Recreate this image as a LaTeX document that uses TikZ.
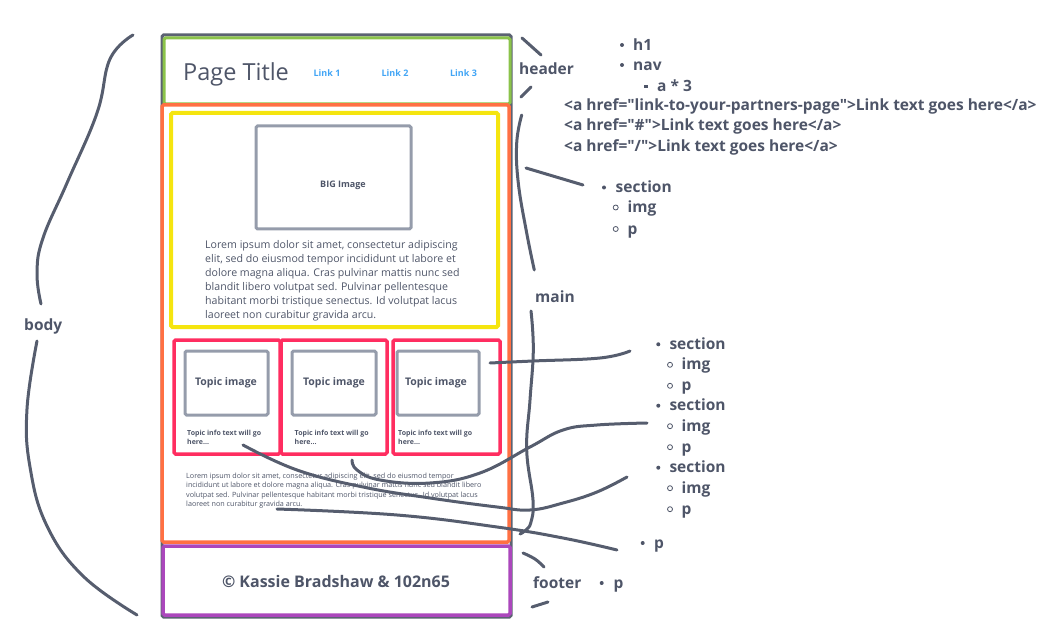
\documentclass[tikz,border=0pt]{standalone}
\usepackage{fontspec}
\setmainfont{Open Sans}[Ligatures=TeXOff]
\definecolor{slate}{HTML}{4E5568}
\definecolor{ink}{HTML}{565D6E}
\definecolor{frame}{HTML}{5B6272}
\definecolor{imgc}{HTML}{959CAB}
\definecolor{grn}{HTML}{8BC34A}
\definecolor{org}{HTML}{FF7043}
\definecolor{ylw}{HTML}{F5E50F}
\definecolor{pnk}{HTML}{FF2D60}
\definecolor{prp}{HTML}{AB47BC}
\definecolor{lnk}{HTML}{42A5F5}
\tikzset{
  box/.style={draw, inner sep=0, rounded corners=1.5},
  lbl/.style={inner sep=0, anchor=mid west, yshift=-2.5pt, text=slate, font=\bfseries\fontsize{15.5}{18}\selectfont},
  bdot/.style={circle, fill=slate, inner sep=0, minimum size=4},
  odot/.style={circle, draw=slate, line width=0.8, inner sep=0, minimum size=5},
  sqdot/.style={rectangle, fill=slate, inner sep=0, minimum size=3.5},
  stroke/.style={draw=ink, line width=3, line cap=round, line join=round},
  topicimg/.style={box, draw=imgc, line width=3, minimum width=83, minimum height=64},
  topic/.style={box, draw=pnk, line width=3.5, minimum width=106, minimum height=114},
  tlab/.style={inner sep=0, text=slate, font=\bfseries\fontsize{10.5}{13}\selectfont},
  tinfo/.style={inner sep=0, anchor=north west, align=left, text=slate, font=\bfseries\fontsize{7}{9.3}\selectfont},
  linklab/.style={inner sep=0, text=lnk, font=\bfseries\fontsize{9}{11}\selectfont}
}
\begin{document}
\begin{tikzpicture}[x=1pt,y=-1pt]
\useasboundingbox (0,0) rectangle (1039,631);
% boxes
\node[box, draw=frame, line width=3, minimum width=349, minimum height=582] (page) at (336.5,326) {};
\node[box, draw=grn, line width=3, minimum width=346, minimum height=66] (header) at (337,71) {};
\node[box, draw=org, line width=3.5, minimum width=347, minimum height=437] (main) at (335.5,323.5) {};
\node[box, draw=ylw, line width=4, minimum width=327, minimum height=214] (hero) at (334.5,220) {};
\node[box, draw=prp, line width=3.5, minimum width=347, minimum height=69] (footer) at (336.5,580.5) {};
\node[box, draw=imgc, line width=3, minimum width=155, minimum height=103] (bigimg) at (333.5,177.5) {};
\node[topic] (s1) at (227,397) {};
\node[topic] (s2) at (334,397) {};
\node[topic, minimum width=107] (s3) at (446.5,397) {};
\node[topicimg] (i1) at (226.5,383) {};
\node[topicimg, minimum width=84] (i2) at (334,383) {};
\node[topicimg, minimum width=82] (i3) at (438,383) {};
% header texts
\node[inner sep=0, anchor=mid west, text=slate, font=\fontsize{23.5}{26}\selectfont] (title) at (183,78) {Page Title};
\node[linklab] (l1) at (327,73) {Link 1};
\node[linklab] (l2) at (395,73) {Link 2};
\node[linklab] (l3) at (463.5,73) {Link 3};
\node[tlab, font=\bfseries\fontsize{9}{11}\selectfont] (bigl) at (343,185) {BIG Image};
\node[inner sep=0, anchor=north west, align=left, text=slate, font=\fontsize{10.6}{14}\selectfont] (lorem1) at (205,240) {Lorem ipsum dolor sit amet, consectetur adipiscing\\elit, sed do eiusmod tempor incididunt ut labore et\\dolore magna aliqua. Cras pulvinar mattis nunc sed\\blandit libero volutpat sed. Pulvinar pellentesque\\habitant morbi tristique senectus. Id volutpat lacus\\laoreet non curabitur gravida arcu.};
\node[tlab] (t1) at (226,383) {Topic image};
\node[tlab] (t2) at (334,383) {Topic image};
\node[tlab] (t3) at (436,383) {Topic image};
\node[tinfo] (n1) at (187,429.5) {Topic info text will go\\here...};
\node[tinfo] (n2) at (294.5,429.5) {Topic info text will go\\here...};
\node[tinfo] (n3) at (398,429.5) {Topic info text will go\\here...};
\node[inner sep=0, anchor=north west, align=left, text=slate, font=\fontsize{7.2}{9.3}\selectfont] (lorem2) at (186,473) {Lorem ipsum dolor sit amet, consectetur adipiscing elit, sed do eiusmod tempor\\incididunt ut labore et dolore magna aliqua. Cras pulvinar mattis nunc sed blandit libero\\volutpat sed. Pulvinar pellentesque habitant morbi tristique senectus. Id volutpat lacus\\laoreet non curabitur gravida arcu.};
\node[inner sep=0, text=slate, font=\bfseries\fontsize{16}{18}\selectfont] (copy) at (336,581) {© Kassie Bradshaw \& 102n65};
% right side labels
\node[lbl] (hdrl) at (519,69) {header};
\node[lbl] (mainl) at (535,297) {main};
\node[lbl] (footl) at (533,583) {footer};
\node[lbl] (bodyl) at (24,325) {body};
% list 1
\node[bdot] (b1) at (622,45) {}; \node[lbl] (h1) at (633,45) {h1};
\node[bdot] (b2) at (622,65) {}; \node[lbl] (nav) at (633,65) {nav};
\node[sqdot] (b3) at (646,86.5) {}; \node[lbl] (a3) at (657,86.5) {a * 3};
\node[lbl] (href1) at (564,105) {<a href="link-to-your-partners-page">Link text goes here</a>};
\node[lbl] (href2) at (564,125.5) {<a href="\#">Link text goes here</a>};
\node[lbl] (href3) at (564,146) {<a href="/">Link text goes here</a>};
% list 2
\node[bdot] (c1) at (604,187.5) {}; \node[lbl] (sec0) at (615.5,187.5) {section};
\node[odot] (c2) at (615.7,207.5) {}; \node[lbl] (img0) at (627.5,207.5) {img};
\node[odot] (c3) at (615.7,229) {}; \node[lbl] (p0) at (627.5,229) {p};
% list 3
\foreach \k/\y in {1/344.3,2/405.7,3/467.7}{
  \node[bdot] (d\k) at (658.3,\y) {}; \node[lbl] (sec\k) at (669.3,\y) {section};
  \node[odot] (e\k) at (670,\y+20.5) {}; \node[lbl] (img\k) at (681.5,\y+20.5) {img};
  \node[odot] (f\k) at (670,\y+41.5) {}; \node[lbl] (p\k) at (681.5,\y+41.5) {p};
}
\node[bdot] (g1) at (642.7,543) {}; \node[lbl] (pm) at (654,543) {p};
\node[bdot] (g2) at (601.7,583) {}; \node[lbl] (pf) at (613.3,583) {p};
% strokes
\draw[stroke] plot[smooth, tension=0.7] coordinates {(133,35) (110,59) (97,113) (67,183) (43,238) (37,273) (41,304)};
\draw[stroke] plot[smooth, tension=0.7] coordinates {(37,341) (27,409) (30,467) (47,526) (83,576) (137,615)};
\draw[stroke] (522,38) -- (541,55);
\draw[stroke] (531,87) -- (521,97);
\draw[stroke] plot[smooth, tension=0.7] coordinates {(521.7,115) (516.7,143) (518.3,183) (526.7,233) (534.3,270)};
\draw[stroke] plot[smooth, tension=0.7] coordinates {(531,311) (533.3,350) (530,400) (526.7,450) (533,500) (531,522) (526,530) (520,534)};
\draw[stroke] (526,168) -- (583,185);
\draw[stroke] plot[smooth, tension=0.7] coordinates {(523,553) (535,559) (544,567)};
\draw[stroke] (532,607) -- (548,602);
\draw[stroke] plot[smooth, tension=0.7] coordinates {(490,363) (533,361) (600,358) (630,351)};
\draw[stroke] plot[smooth, tension=0.7] coordinates {(243,445) (297,470) (363,487) (430,498) (497,507) (530,510) (563,503) (597,492) (627,477)};
\draw[stroke] plot[smooth, tension=0.7] coordinates {(352,460) (357,470) (380,480) (430,483) (480,473) (530,447) (563,430) (597,425) (647,423)};
\draw[stroke] plot[smooth, tension=0.7] coordinates {(277,509) (397,515) (497,527) (563,538) (617,550)};
\end{tikzpicture}
\end{document}
